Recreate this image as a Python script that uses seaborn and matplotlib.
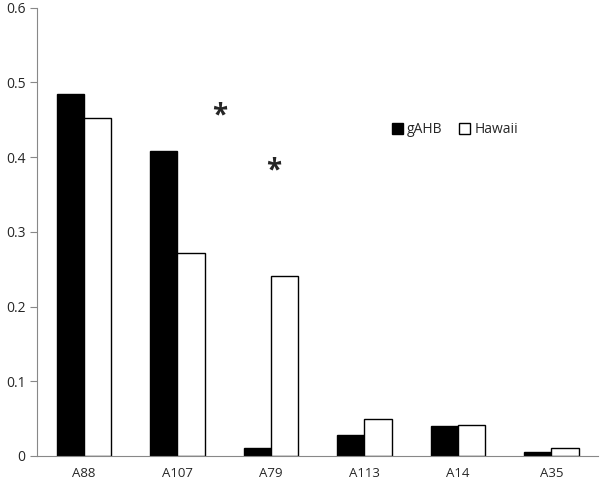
import seaborn as sns
import matplotlib.pyplot as plt
import numpy as np
import pandas as pd

# dados
marcadores = ['A88', 'A107', 'A79', 'A113', 'A14', 'A35']
gahb = [0.484, 0.408, 0.010, 0.028, 0.040, 0.005]
hawaii = [0.452, 0.272, 0.241, 0.050, 0.041, 0.011]

df = pd.DataFrame({
    'marcador': marcadores * 2,
    'valor': gahb + hawaii,
    'grupo': ['gAHB'] * len(marcadores) + ['Hawaii'] * len(marcadores),
})

sns.set_style('white')
plt.rcParams['font.family'] = ['Open Sans', 'DejaVu Sans']

fig = plt.figure(figsize=(6, 4.86), dpi=100)
ax = fig.add_axes([0.062, 0.062, 0.935, 0.922])

sns.barplot(data=df, x='marcador', y='valor', hue='grupo',
            palette=['black', 'white'], edgecolor='black', linewidth=1,
            width=0.58, ax=ax)

ax.set_xlim(-0.5, len(marcadores) - 0.5)
ax.set_ylim(0, 0.6)
ax.set_yticks(np.arange(0, 0.61, 0.1))
ax.set_yticklabels(['0', '0.1', '0.2', '0.3', '0.4', '0.5', '0.6'])
ax.set_xlabel('')
ax.set_ylabel('')

# ticks nas divisões entre categorias
ax.set_xticks(np.arange(-0.5, len(marcadores)), minor=True)
ax.tick_params(axis='x', which='major', length=0, labelsize=9.5, pad=8)
ax.tick_params(axis='x', which='minor', length=5, color='#888888', direction='out')
ax.tick_params(axis='y', length=5, color='#888888', labelsize=10, direction='out', left=True)

for lado in ['top', 'right']:
    ax.spines[lado].set_visible(False)
for lado in ['left', 'bottom']:
    ax.spines[lado].set_color('#888888')

# asteriscos de significância
ax.text(1.45, 0.455, '*', fontsize=20, fontweight='bold', ha='center', va='center')
ax.text(2.03, 0.381, '*', fontsize=20, fontweight='bold', ha='center', va='center')

ax.legend(loc='center', bbox_to_anchor=(0.745, 0.728), ncol=2, frameon=False,
          handlelength=0.8, handleheight=0.8, handletextpad=0.3, columnspacing=1.2,
          fontsize=10)

fig.savefig('out.png', dpi=100)
